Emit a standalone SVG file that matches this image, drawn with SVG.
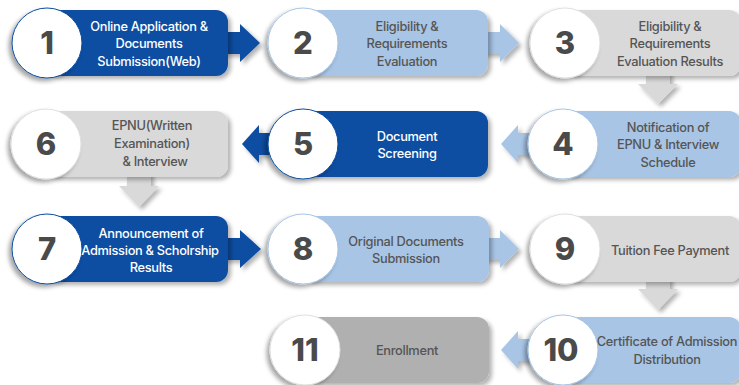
<svg xmlns="http://www.w3.org/2000/svg" width="739" height="385" viewBox="0 0 739 385">
<defs>
<filter id="bs" x="-10%" y="-20%" width="130%" height="150%"><feDropShadow dx="3" dy="3" stdDeviation="2" flood-color="#000" flood-opacity="0.3"/></filter>
<filter id="cs" x="-20%" y="-20%" width="140%" height="150%"><feDropShadow dx="-3" dy="3" stdDeviation="2" flood-color="#000" flood-opacity="0.35"/></filter>
<filter id="as" x="-30%" y="-30%" width="170%" height="170%"><feDropShadow dx="3" dy="3" stdDeviation="2" flood-color="#000" flood-opacity="0.3"/></filter>
</defs>
<style>
.dk{fill:#0b4ea2}
.lt{fill:#a8c5e6}
.gy{fill:#d9d9d9}
.gd{fill:#b0b0b0}
.box{filter:url(#bs)}
.arr{filter:url(#as)}
.c{fill:#fff;stroke-width:1;filter:url(#cs)}
.cdk{stroke:#0b4ea2}
.clt{stroke:#a8c5e6}
.cgy{stroke:#e0e0e0}
.num{font-family:Inter,"Liberation Sans",sans-serif;font-size:31px;font-weight:800;fill:#4a4a4a;text-anchor:middle}
.t{font-family:Inter,"Liberation Sans",sans-serif;font-size:12.8px;font-weight:500;letter-spacing:-0.3px;text-anchor:middle}
.tw{fill:#fff}
.tg{fill:#555}
</style>
<g id="connectors">
<path class="arr dk" d="M220,32 H240 V24 L260,43 L240,62 V54 H220 Z"/>
<path class="arr lt" d="M480,32 H500 V24 L519,43 L500,62 V54 H480 Z"/>
<path class="arr gy" d="M646,70 V84 H638 L658,104 L678,84 H670 V70 Z"/>
<path class="arr lt" d="M550,133 H518 V125 L501,144 L518,163 V155 H550 Z"/>
<path class="arr dk" d="M290,133 H259 V125 L242,144 L259,163 V155 H290 Z"/>
<path class="arr gy" d="M127,170 V186 H119 L139,207 L159,186 H151 V170 Z"/>
<path class="arr dk" d="M220,238 H240 V230 L261,249 L240,268 V260 H220 Z"/>
<path class="arr lt" d="M480,238 H500 V230 L519,249 L500,268 V260 H480 Z"/>
<path class="arr gy" d="M646,275 V289 H638 L658,310 L678,289 H670 V275 Z"/>
<path class="arr lt" d="M550,339 H518 V331 L501,350 L518,369 V361 H550 Z"/>
</g>
<g id="node1">
<rect class="box dk" x="47" y="10" width="181" height="66" rx="12"/>
<circle class="c cdk" cx="47" cy="43" r="35"/>
<text class="num" x="47" y="54">1</text>
<text class="t tw"><tspan x="149" y="31">Online Application &amp;</tspan><tspan x="149" y="48">Documents</tspan><tspan x="149" y="66">Submission(Web)</tspan></text>
</g>
<g id="node2">
<rect class="box lt" x="303" y="10" width="185" height="66" rx="12"/>
<circle class="c clt" cx="303" cy="43" r="35"/>
<text class="num" x="303" y="54">2</text>
<text class="t tg"><tspan x="407" y="31">Eligibility &amp;</tspan><tspan x="407" y="48">Requirements</tspan><tspan x="407" y="66">Evaluation</tspan></text>
</g>
<g id="node3">
<rect class="box gy" x="565" y="10" width="176" height="66" rx="12"/>
<circle class="c cgy" cx="565" cy="43" r="35"/>
<text class="num" x="565" y="54">3</text>
<text class="t tg"><tspan x="670" y="31">Eligibility &amp;</tspan><tspan x="670" y="48">Requirements</tspan><tspan x="670" y="66">Evaluation Results</tspan></text>
</g>
<g id="node4">
<rect class="box lt" x="563" y="111" width="178" height="66" rx="12"/>
<circle class="c clt" cx="563" cy="144" r="35"/>
<text class="num" x="563" y="155">4</text>
<text class="t tg"><tspan x="668" y="132">Notification of</tspan><tspan x="668" y="149">EPNU &amp; Interview</tspan><tspan x="668" y="167">Schedule</tspan></text>
</g>
<g id="node5">
<rect class="box dk" x="303" y="111" width="185" height="66" rx="12"/>
<circle class="c cdk" cx="303" cy="144" r="35"/>
<text class="num" x="303" y="155">5</text>
<text class="t tw"><tspan x="407" y="141">Document</tspan><tspan x="407" y="158">Screening</tspan></text>
</g>
<g id="node6">
<rect class="box gy" x="46" y="111" width="182" height="66" rx="12"/>
<circle class="c cgy" cx="46" cy="144" r="35"/>
<text class="num" x="46" y="155">6</text>
<text class="t tg"><tspan x="152" y="130">EPNU(Written</tspan><tspan x="152" y="148">Examination)</tspan><tspan x="155" y="166">&amp; Interview</tspan></text>
</g>
<g id="node7">
<rect class="box dk" x="47" y="216" width="181" height="66" rx="12"/>
<circle class="c cdk" cx="47" cy="249" r="35"/>
<text class="num" x="47" y="260">7</text>
<text class="t tw"><tspan x="151" y="238">Announcement of</tspan><tspan x="150" y="255">Admission &amp; Scholrship</tspan><tspan x="151" y="272">Results</tspan></text>
</g>
<g id="node8">
<rect class="box lt" x="303" y="216" width="186" height="66" rx="12"/>
<circle class="c clt" cx="303" cy="249" r="35"/>
<text class="num" x="303" y="260">8</text>
<text class="t tg"><tspan x="406" y="246">Original Documents</tspan><tspan x="406" y="263">Submission</tspan></text>
</g>
<g id="node9">
<rect class="box gy" x="565" y="216" width="176" height="66" rx="12"/>
<circle class="c cgy" cx="565" cy="249" r="35"/>
<text class="num" x="565" y="260">9</text>
<text class="t tg" x="670" y="255">Tuition Fee Payment</text>
</g>
<g id="node10">
<rect class="box lt" x="563" y="317" width="178" height="66" rx="12"/>
<circle class="c clt" cx="563" cy="350" r="35"/>
<text class="num" x="561" y="361">10</text>
<text class="t tg"><tspan x="667" y="346">Certificate of Admission</tspan><tspan x="667" y="364">Distribution</tspan></text>
</g>
<g id="node11">
<rect class="box gd" x="305" y="317" width="184" height="66" rx="12"/>
<circle class="c cgy" cx="305" cy="350" r="35"/>
<text class="num" x="305" y="361">11</text>
<text class="t tg" x="407" y="355">Enrollment</text>
</g>
</svg>
